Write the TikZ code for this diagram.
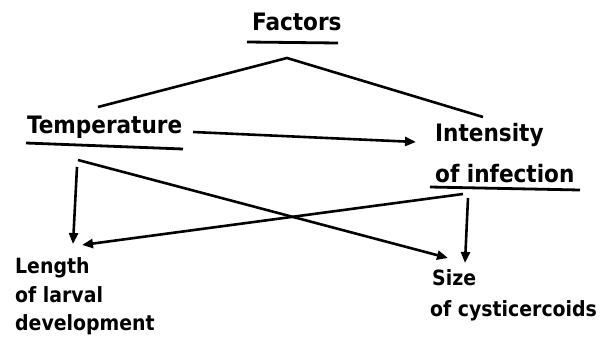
\documentclass[tikz,border=0pt]{standalone}
\usepackage{fontspec}
\setmainfont{DejaVu Sans Condensed}[BoldFont={DejaVu Sans Condensed Bold}]
\usetikzlibrary{arrows.meta}
\begin{document}
\begin{tikzpicture}[x=1pt,y=-1pt,
  lbl/.style={anchor=base west,inner sep=0pt,font=\fontsize{21}{25}\selectfont\bfseries},
  big/.style={lbl,font=\fontsize{24}{28}\selectfont\bfseries},
  conn/.style={line width=2.6pt},
  arr/.style={line width=2.6pt,-{Triangle[length=11pt,width=9pt]}},
  uline/.style={line width=2.8pt}]
\useasboundingbox (0,0) rectangle (603,351);
% labels
\node[big] (fac) at (252,30) {Factors};
\node[big] (temp) at (27,133) {Temperature};
\node[big] (int1) at (435,141) {Intensity};
\node[big] (int2) at (435,182) {of infection};
\node[lbl] (len1) at (15,273) {Length};
\node[lbl] (len2) at (15,302) {of larval};
\node[lbl] (len3) at (15,330) {development};
\node[lbl] (siz1) at (432,285) {Size};
\node[lbl] (siz2) at (430,316) {of cysticercoids};
% underlines
\draw[uline] (247,42) -- (338,43);
\draw[uline] (26,143) -- (183,149);
\draw[uline] (430,187) -- (580,190);
% connector points
\coordinate (apex) at (287,58);
\coordinate (ftl) at (98,107);
\coordinate (ftr) at (483,117);
\coordinate (ts) at (193,132);
\coordinate (te) at (416,142);
\coordinate (tv) at (77,167);
\coordinate (lv) at (73,244);
\coordinate (td) at (78,160);
\coordinate (sd) at (448,258);
\coordinate (id) at (463,194);
\coordinate (ld) at (82,245);
\coordinate (iv) at (468,198);
\coordinate (sv) at (465,263);
\draw[conn] (ftl) -- (apex) -- (ftr);
\draw[arr] (ts) -- (te);
\draw[arr] (tv) -- (lv);
\draw[arr] (td) -- (sd);
\draw[arr] (id) -- (ld);
\draw[arr] (iv) -- (sv);
\end{tikzpicture}
\end{document}
